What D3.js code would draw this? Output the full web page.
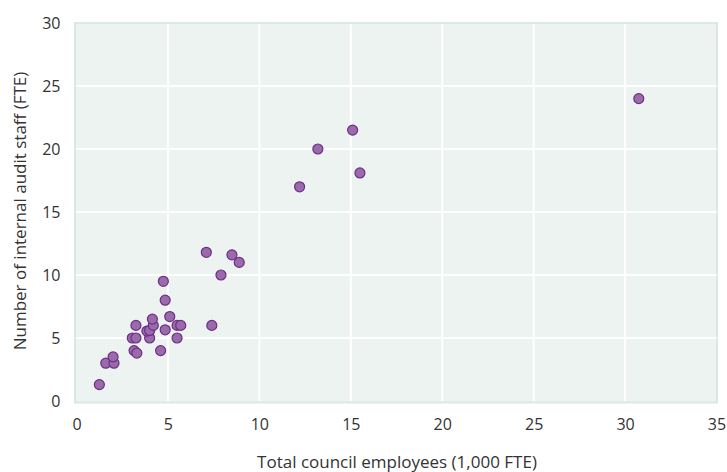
<!DOCTYPE html>
<html>
<head>
<meta charset="utf-8">
<script src="https://cdn.jsdelivr.net/npm/d3@7"></script>
<style>
  body { margin: 0; background: white; }
  text { font-family: "Open Sans", "Noto Sans", sans-serif; fill: #333; }
</style>
</head>
<body>
<svg id="chart" width="727" height="472"></svg>
<script>
// council employees (1,000 FTE) vs internal audit staff (FTE)
var employees = [1.25, 1.6, 2.05, 2.0, 3.15, 3.3, 4.6, 3.05, 3.25, 4.0, 5.5, 3.85, 4.0, 4.85,
  3.25, 4.2, 5.5, 5.7, 7.4, 4.15, 5.1, 4.85, 4.75, 7.9, 8.9, 8.5, 7.1, 12.2, 15.5, 13.2, 15.1, 30.75];
var auditStaff = [1.3, 3.0, 3.0, 3.5, 4.0, 3.8, 4.0, 5.0, 5.0, 5.0, 5.0, 5.55, 5.6, 5.65,
  6.0, 6.0, 6.0, 6.0, 6.0, 6.5, 6.7, 8.0, 9.5, 10.0, 11.0, 11.6, 11.8, 17.0, 18.1, 20.0, 21.5, 24.0];
var xTicks = [0, 5, 10, 15, 20, 25, 30, 35];
var yTicks = [0, 5, 10, 15, 20, 25, 30];

var svg = d3.select('#chart');
var plot = { left: 76.5, right: 716.5, top: 23, bottom: 401 };

var x = d3.scaleLinear().domain([0, 35]).range([plot.left, plot.right]);
var y = d3.scaleLinear().domain([0, 30]).range([plot.bottom, plot.top]);

// plot background
svg.append('rect')
  .attr('x', plot.left - 1.5)
  .attr('y', plot.top)
  .attr('width', plot.right - plot.left + 2)
  .attr('height', plot.bottom - plot.top + 1.5)
  .attr('fill', '#edf3f1')
  .attr('stroke', '#dbe8e4')
  .attr('stroke-width', 2);

// grid
svg.append('g')
  .selectAll('line')
  .data(xTicks.slice(1, -1))
  .enter()
  .append('line')
  .attr('x1', d => x(d)).attr('x2', d => x(d))
  .attr('y1', plot.top + 1).attr('y2', plot.bottom)
  .attr('stroke', 'white')
  .attr('stroke-width', 2);

svg.append('g')
  .selectAll('line')
  .data(yTicks.slice(1, -1))
  .enter()
  .append('line')
  .attr('x1', plot.left).attr('x2', plot.right)
  .attr('y1', d => y(d)).attr('y2', d => y(d))
  .attr('stroke', 'white')
  .attr('stroke-width', 2);

// axes (labels only)
var xAxis = svg.append('g')
  .attr('transform', 'translate(0,' + (plot.bottom + 10) + ')')
  .call(d3.axisBottom(x).tickValues(xTicks).tickSize(0).tickPadding(0));
var yAxis = svg.append('g')
  .attr('transform', 'translate(' + (plot.left - 16) + ',0)')
  .call(d3.axisLeft(y).tickValues(yTicks).tickSize(0).tickPadding(0));

[xAxis, yAxis].forEach(function(g){
  g.select('.domain').remove();
  g.selectAll('text')
    .style('font-size', '16px')
    .style('font-family', '"Open Sans", "Noto Sans", sans-serif')
    .attr('fill', '#333');
});
xAxis.selectAll('text').attr('dy', '0.71em').attr('y', 8);
yAxis.selectAll('text').attr('dy', '0.35em');

// axis titles
svg.append('text')
  .attr('x', 397)
  .attr('y', 468)
  .attr('text-anchor', 'middle')
  .style('font-size', '17px')
  .text('Total council employees (1,000 FTE)');

svg.append('text')
  .attr('transform', 'translate(26,' + 211 + ') rotate(-90)')
  .attr('text-anchor', 'middle')
  .style('font-size', '17px')
  .text('Number of internal audit staff (FTE)');

// points
svg.append('g')
  .selectAll('circle')
  .data(employees.map((d, i) => [d, auditStaff[i]]))
  .enter()
  .append('circle')
  .attr('cx', d => x(d[0]))
  .attr('cy', d => y(d[1]))
  .attr('r', 5)
  .attr('fill', '#9b6aaa')
  .attr('stroke', '#6b2f85')
  .attr('stroke-width', 1.2);
</script>
</body>
</html>
